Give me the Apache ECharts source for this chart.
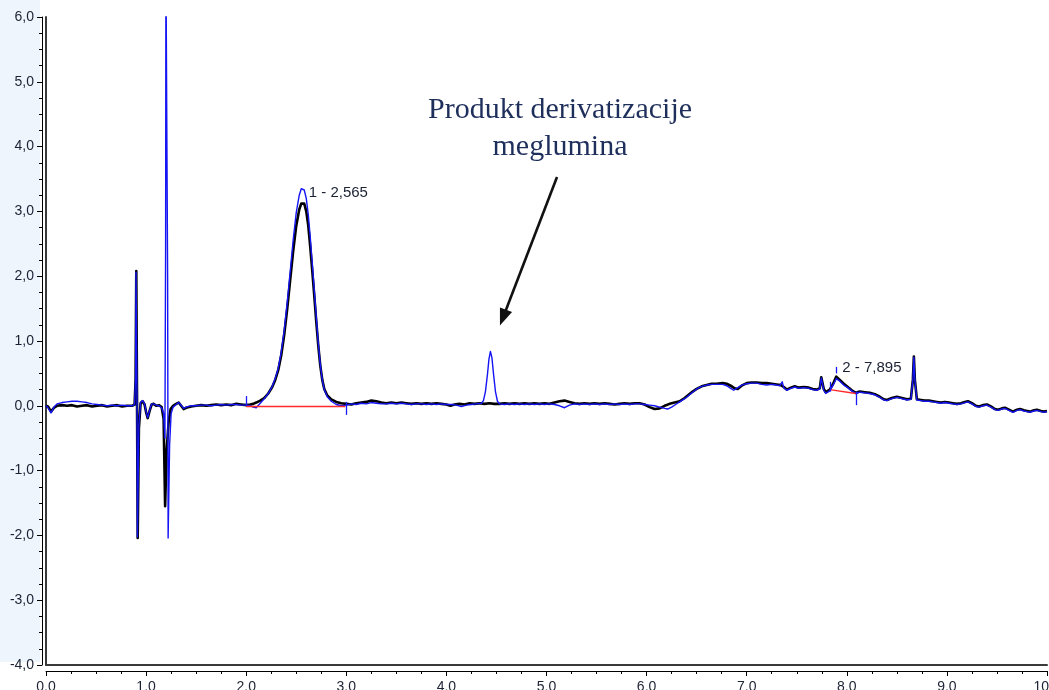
<!DOCTYPE html>
<html>
<head>
<meta charset="utf-8">
<title>Kromatogram</title>
<script src="https://cdn.jsdelivr.net/npm/echarts@6/dist/echarts.min.js"></script>
<style>
  html, body { margin: 0; padding: 0; background: #ffffff; overflow: hidden; }
  #chart { width: 1049px; height: 690px; }
</style>
</head>
<body>
<div id="chart"></div>
<script>
// Retention time (min) and detector signal for the two overlaid runs
const blackTrace = [
  [0.00,0.00],[0.02,-0.01],[0.05,-0.09],[0.08,-0.03],[0.11,0.00],[0.16,0.01],[0.21,0.00],[0.26,0.01],
  [0.31,-0.01],[0.36,0.00],[0.41,0.01],[0.46,-0.01],[0.51,0.00],[0.56,0.01],[0.61,-0.01],[0.66,0.00],
  [0.71,0.01],[0.76,-0.01],[0.81,0.00],[0.86,0.00],[0.885,0.02],[0.895,0.40],[0.902,2.08],[0.909,0.20],
  [0.916,-2.04],[0.928,-0.35],[0.945,0.04],[0.965,0.07],[0.985,0.02],[1.000,-0.10],[1.016,-0.19],[1.035,-0.08],
  [1.055,0.02],[1.075,0.03],[1.10,0.00],[1.13,0.01],[1.155,-0.02],[1.175,-0.20],[1.190,-1.55],[1.205,-0.70],
  [1.225,-0.25],[1.245,-0.05],[1.27,0.00],[1.30,0.03],[1.325,0.05],[1.35,0.00],[1.375,-0.05],[1.40,-0.03],
  [1.45,-0.01],[1.50,0.00],[1.55,0.01],[1.60,0.00],[1.65,0.01],[1.70,0.02],[1.75,0.01],[1.80,0.02],
  [1.85,0.01],[1.90,0.03],[1.95,0.02],[2.00,0.01],[2.04,0.02],[2.07,0.03],[2.10,0.05],[2.14,0.08],
  [2.18,0.12],[2.22,0.19],[2.26,0.29],[2.29,0.40],[2.32,0.55],[2.35,0.78],[2.38,1.10],[2.41,1.50],
  [2.44,1.95],[2.47,2.40],[2.50,2.78],[2.53,3.03],[2.55,3.12],[2.565,3.15],[2.58,3.12],[2.60,3.00],
  [2.62,2.78],[2.64,2.45],[2.66,2.08],[2.68,1.70],[2.70,1.30],[2.72,0.93],[2.74,0.62],[2.76,0.40],
  [2.78,0.26],[2.81,0.16],[2.85,0.10],[2.90,0.06],[2.95,0.04],[3.00,0.03],[3.05,0.02],[3.10,0.04],
  [3.15,0.05],[3.20,0.06],[3.25,0.08],[3.30,0.07],[3.35,0.05],[3.40,0.04],[3.45,0.05],[3.50,0.04],
  [3.55,0.05],[3.60,0.04],[3.65,0.03],[3.70,0.04],[3.75,0.03],[3.80,0.04],[3.85,0.03],[3.90,0.04],
  [3.95,0.03],[4.00,0.02],[4.04,0.00],[4.08,0.02],[4.13,0.03],[4.18,0.02],[4.23,0.04],[4.28,0.03],
  [4.33,0.04],[4.38,0.03],[4.43,0.04],[4.48,0.03],[4.53,0.03],[4.58,0.04],[4.63,0.03],[4.68,0.04],
  [4.73,0.03],[4.78,0.04],[4.83,0.03],[4.88,0.04],[4.93,0.03],[4.98,0.04],[5.03,0.03],[5.08,0.05],
  [5.13,0.07],[5.18,0.08],[5.23,0.06],[5.28,0.04],[5.33,0.03],[5.38,0.04],[5.43,0.03],[5.48,0.04],
  [5.53,0.03],[5.58,0.04],[5.63,0.03],[5.68,0.02],[5.73,0.03],[5.78,0.04],[5.83,0.03],[5.88,0.04],
  [5.93,0.04],[5.98,0.02],[6.03,-0.02],[6.08,-0.05],[6.13,-0.04],[6.18,0.00],[6.23,0.03],[6.28,0.05],
  [6.33,0.07],[6.38,0.12],[6.42,0.17],[6.46,0.22],[6.50,0.26],[6.55,0.30],[6.60,0.32],[6.65,0.34],
  [6.70,0.34],[6.76,0.35],[6.80,0.34],[6.84,0.31],[6.88,0.27],[6.91,0.26],[6.95,0.31],[7.00,0.35],
  [7.05,0.36],[7.10,0.36],[7.15,0.35],[7.20,0.35],[7.25,0.34],[7.30,0.33],[7.34,0.32],[7.37,0.29],
  [7.40,0.25],[7.44,0.28],[7.48,0.30],[7.52,0.28],[7.57,0.29],[7.62,0.28],[7.66,0.26],[7.70,0.25],
  [7.73,0.27],[7.745,0.44],[7.755,0.45],[7.77,0.26],[7.79,0.21],[7.81,0.23],[7.83,0.25],[7.86,0.33],
  [7.895,0.45],[7.93,0.40],[7.97,0.34],[8.01,0.29],[8.05,0.24],[8.09,0.20],[8.13,0.22],[8.18,0.21],
  [8.23,0.20],[8.28,0.18],[8.33,0.14],[8.37,0.10],[8.40,0.09],[8.45,0.12],[8.50,0.14],[8.55,0.12],
  [8.60,0.10],[8.64,0.11],[8.66,0.40],[8.67,0.76],[8.68,0.40],[8.70,0.10],[8.74,0.09],[8.78,0.08],
  [8.82,0.08],[8.86,0.07],[8.90,0.06],[8.94,0.05],[8.98,0.06],[9.02,0.05],[9.06,0.04],[9.10,0.03],
  [9.14,0.04],[9.18,0.06],[9.21,0.07],[9.25,0.04],[9.29,0.00],[9.32,-0.01],[9.36,0.01],[9.40,0.02],
  [9.44,-0.01],[9.48,-0.05],[9.51,-0.06],[9.55,-0.04],[9.58,-0.03],[9.62,-0.06],[9.66,-0.09],[9.70,-0.06],
  [9.73,-0.05],[9.77,-0.07],[9.80,-0.08],[9.83,-0.09],[9.87,-0.07],[9.90,-0.06],[9.94,-0.08],[9.97,-0.09],
  [10.0,-0.08]
];

const blueTrace = [
  [0.00,0.00],[0.02,-0.03],[0.05,-0.11],[0.08,-0.02],[0.11,0.03],[0.16,0.05],[0.21,0.06],[0.26,0.07],
  [0.31,0.07],[0.36,0.06],[0.41,0.05],[0.46,0.03],[0.51,0.02],[0.56,0.01],[0.61,0.00],[0.66,0.01],
  [0.71,0.00],[0.76,0.01],[0.81,0.00],[0.86,0.00],[0.885,0.02],[0.895,0.45],[0.899,2.06],[0.903,2.06],
  [0.909,0.15],[0.913,-2.02],[0.918,-2.02],[0.928,-0.30],[0.945,0.05],[0.965,0.08],[0.985,0.03],[1.000,-0.09],
  [1.016,-0.18],[1.035,-0.07],[1.055,0.03],[1.075,0.03],[1.10,0.01],[1.13,0.00],[1.155,-0.03],[1.175,-0.12],
  [1.188,-0.50],[1.195,2.50],[1.198,6.90],[1.212,6.90],[1.215,2.00],[1.220,-2.04],[1.225,-2.04],[1.235,-0.60],
  [1.25,-0.12],[1.27,-0.02],[1.30,0.02],[1.325,0.05],[1.35,0.01],[1.375,-0.04],[1.40,-0.02],[1.45,0.00],
  [1.50,0.00],[1.55,0.01],[1.60,0.01],[1.65,0.00],[1.70,0.01],[1.75,0.02],[1.80,0.01],[1.85,0.02],
  [1.90,0.02],[1.95,0.01],[2.00,0.01],[2.04,0.00],[2.07,-0.02],[2.10,-0.03],[2.14,0.04],[2.18,0.11],
  [2.22,0.19],[2.26,0.30],[2.29,0.42],[2.32,0.58],[2.35,0.83],[2.38,1.17],[2.41,1.60],[2.44,2.08],
  [2.47,2.57],[2.50,2.98],[2.53,3.25],[2.55,3.35],[2.565,3.38],[2.58,3.33],[2.60,3.20],[2.62,2.95],
  [2.64,2.60],[2.66,2.20],[2.68,1.79],[2.70,1.37],[2.72,0.97],[2.74,0.64],[2.76,0.40],[2.78,0.25],
  [2.81,0.14],[2.85,0.07],[2.90,0.02],[2.95,0.00],[3.00,0.01],[3.05,0.03],[3.10,0.02],[3.15,0.04],
  [3.20,0.03],[3.25,0.05],[3.30,0.04],[3.35,0.03],[3.40,0.03],[3.45,0.04],[3.50,0.03],[3.55,0.04],
  [3.60,0.03],[3.65,0.02],[3.70,0.03],[3.75,0.03],[3.80,0.02],[3.85,0.03],[3.90,0.02],[3.95,0.03],
  [4.00,0.02],[4.05,0.02],[4.10,0.01],[4.15,-0.01],[4.20,0.01],[4.25,0.02],[4.30,0.03],[4.35,0.04],
  [4.37,0.08],[4.39,0.22],[4.41,0.48],[4.425,0.72],[4.44,0.84],[4.455,0.74],[4.47,0.50],[4.49,0.22],
  [4.51,0.07],[4.53,0.03],[4.58,0.02],[4.63,0.03],[4.68,0.02],[4.73,0.03],[4.78,0.02],[4.83,0.03],
  [4.88,0.02],[4.93,0.03],[4.98,0.02],[5.03,0.03],[5.08,0.02],[5.13,0.00],[5.18,-0.03],[5.23,0.01],
  [5.28,0.03],[5.33,0.02],[5.38,0.03],[5.43,0.02],[5.48,0.03],[5.53,0.02],[5.58,0.03],[5.63,0.02],
  [5.68,0.03],[5.73,0.02],[5.78,0.03],[5.83,0.02],[5.88,0.03],[5.93,0.03],[5.98,0.02],[6.03,0.01],
  [6.08,0.00],[6.13,-0.02],[6.18,-0.04],[6.21,-0.05],[6.25,-0.02],[6.29,0.02],[6.33,0.06],[6.38,0.11],
  [6.42,0.16],[6.46,0.21],[6.50,0.26],[6.55,0.30],[6.60,0.32],[6.65,0.33],[6.70,0.33],[6.76,0.33],
  [6.80,0.31],[6.84,0.27],[6.87,0.24],[6.90,0.27],[6.95,0.32],[7.00,0.34],[7.05,0.35],[7.10,0.35],
  [7.15,0.33],[7.20,0.32],[7.25,0.33],[7.30,0.32],[7.33,0.31],[7.355,0.37],[7.37,0.28],[7.40,0.24],
  [7.44,0.27],[7.48,0.29],[7.52,0.27],[7.57,0.28],[7.62,0.27],[7.66,0.25],[7.70,0.24],[7.73,0.26],
  [7.745,0.43],[7.755,0.44],[7.77,0.24],[7.79,0.19],[7.81,0.21],[7.83,0.23],[7.86,0.31],[7.895,0.42],
  [7.93,0.38],[7.97,0.32],[8.01,0.28],[8.05,0.23],[8.09,0.19],[8.13,0.21],[8.18,0.20],[8.23,0.19],
  [8.28,0.17],[8.33,0.13],[8.37,0.09],[8.40,0.08],[8.45,0.11],[8.50,0.13],[8.55,0.11],[8.60,0.09],
  [8.64,0.10],[8.66,0.40],[8.67,0.75],[8.68,0.40],[8.70,0.09],[8.74,0.08],[8.78,0.07],[8.82,0.07],
  [8.86,0.06],[8.90,0.05],[8.94,0.04],[8.98,0.05],[9.02,0.04],[9.06,0.03],[9.10,0.02],[9.14,0.03],
  [9.18,0.05],[9.21,0.06],[9.25,0.03],[9.29,-0.01],[9.32,-0.02],[9.36,0.00],[9.40,0.01],[9.44,-0.02],
  [9.48,-0.06],[9.51,-0.07],[9.55,-0.05],[9.58,-0.04],[9.62,-0.07],[9.66,-0.10],[9.70,-0.07],[9.73,-0.06],
  [9.77,-0.08],[9.80,-0.09],[9.83,-0.10],[9.87,-0.08],[9.90,-0.07],[9.94,-0.09],[9.97,-0.10],[10.0,-0.09]
];

// Integrated peaks: retention time (min)
const peakTimes = [2.565, 7.895];

// Integration baselines: [start time, start signal, end time, end signal]
const peakBaselines = [
  [2.00, 0.00, 2.99, 0.00],
  [7.83, 0.25, 8.09, 0.19]
];

// Integration event ticks: [time, signal from, signal to]
const eventTicks = [
  [2.005, 0.15, 0.00],
  [2.995, 0.06, -0.14],
  [7.83, 0.37, 0.22],
  [7.895, 0.60, 0.50],
  [8.09, 0.22, 0.01]
];

// Annotation arrow: [from time, from signal], [to time, to signal]
const arrowFrom = [5.105, 3.53];
const arrowTo = [4.565, 1.36];
const annotationText = 'Produkt derivatizacije\nmeglumina';

const xTicks = { min: 0, max: 10, step: 1 };
const yTicks = { min: -4, max: 6, step: 1 };

const fmt = v => v.toFixed(1).replace('.', ',');
const signalAt = (trace, t) => {
  const p = trace.find(d => Math.abs(d[0] - t) < 1e-9);
  return p ? p[1] : 0;
};

const chart = echarts.init(document.getElementById('chart'), null, { renderer: 'canvas' });

const labelFont = { fontFamily: 'Liberation Sans, Arial, sans-serif', color: '#1b2233' };

const markLineData = [];
peakBaselines.forEach(b => {
  markLineData.push([
    { coord: [b[0], b[1]], lineStyle: { color: '#ff2a2a', width: 1.3, type: 'solid' } },
    { coord: [b[2], b[3]] }
  ]);
});
eventTicks.forEach(t => {
  markLineData.push([
    { coord: [t[0], t[1]], lineStyle: { color: '#1a1aff', width: 1.3, type: 'solid' } },
    { coord: [t[0], t[2]] }
  ]);
});
markLineData.push([
  { coord: arrowFrom, symbol: 'none', lineStyle: { color: '#111', width: 2.6, type: 'solid' } },
  { coord: arrowTo, symbol: 'triangle', symbolSize: [13, 17] }
]);

const option = {
  animation: false,
  backgroundColor: '#ffffff',
  grid: { left: 46, top: 17, width: 1001, height: 648, containLabel: false, outerBoundsMode: 'none' },
  graphic: [
    {
      type: 'rect', z: -10, silent: true,
      shape: { x: 0, y: 0, width: 40, height: 662 },
      style: { fill: '#eff5fc' }
    },
    {
      type: 'text', z: 50, silent: true,
      x: 560, y: 92,
      style: {
        text: annotationText,
        fontFamily: 'Liberation Serif, Times New Roman, serif',
        fontSize: 30,
        lineHeight: 37,
        fill: '#1f2f5c',
        align: 'center',
        verticalAlign: 'top'
      }
    }
  ],
  xAxis: [
    {
      type: 'value', min: xTicks.min, max: xTicks.max, interval: xTicks.step,
      position: 'bottom', offset: 6,
      axisLine: { show: true, onZero: false, lineStyle: { color: '#000', width: 1 } },
      axisTick: { show: true, length: 5, lineStyle: { color: '#000' } },
      minorTick: { show: true, splitNumber: 4, length: 3, lineStyle: { color: '#000' } },
      splitLine: { show: false },
      axisLabel: Object.assign({ fontSize: 14, margin: 9, formatter: fmt, showMaxLabel: true }, labelFont)
    },
    {
      type: 'value', min: xTicks.min, max: xTicks.max, position: 'bottom', offset: 0,
      axisLine: { show: true, onZero: false, lineStyle: { color: '#3a3a3a', width: 2 } },
      axisTick: { show: false }, axisLabel: { show: false }, splitLine: { show: false }
    }
  ],
  yAxis: [
    {
      type: 'value', min: yTicks.min, max: yTicks.max, interval: yTicks.step,
      position: 'left', offset: 4,
      axisLine: { show: true, onZero: false, lineStyle: { color: '#000', width: 1 } },
      axisTick: { show: true, length: 5, lineStyle: { color: '#000' } },
      minorTick: { show: true, splitNumber: 4, length: 3, lineStyle: { color: '#000' } },
      splitLine: { show: false },
      axisLabel: Object.assign({ fontSize: 14, margin: 8, formatter: fmt, showMaxLabel: true }, labelFont)
    },
    {
      type: 'value', min: yTicks.min, max: yTicks.max, position: 'left', offset: 0,
      axisLine: { show: true, onZero: false, lineStyle: { color: '#3a3a3a', width: 2 } },
      axisTick: { show: false }, axisLabel: { show: false }, splitLine: { show: false }
    }
  ],
  series: [
    {
      name: 'uzorak',
      type: 'line',
      data: blackTrace,
      showSymbol: false,
      clip: true,
      z: 3,
      lineStyle: { color: '#000000', width: 2.6, join: 'round' },
      markPoint: {
        silent: true,
        symbol: 'circle',
        symbolSize: 0,
        data: peakTimes.map((t, i) => ({
          name: (i + 1) + ' - ' + t.toFixed(3).replace('.', ','),
          coord: [t, signalAt(blackTrace, t)]
        })),
        label: Object.assign({
          show: true, position: 'right', distance: 6, offset: [0, -9],
          fontSize: 15, formatter: p => p.name
        }, labelFont)
      }
    },
    {
      name: 'standard',
      type: 'line',
      data: blueTrace,
      showSymbol: false,
      clip: true,
      z: 4,
      lineStyle: { color: '#1414f5', width: 1.4, join: 'round' },
      markLine: {
        silent: true,
        symbol: 'none',
        label: { show: false },
        emphasis: { disabled: true },
        data: markLineData
      }
    }
  ]
};

chart.setOption(option);
</script>
</body>
</html>
